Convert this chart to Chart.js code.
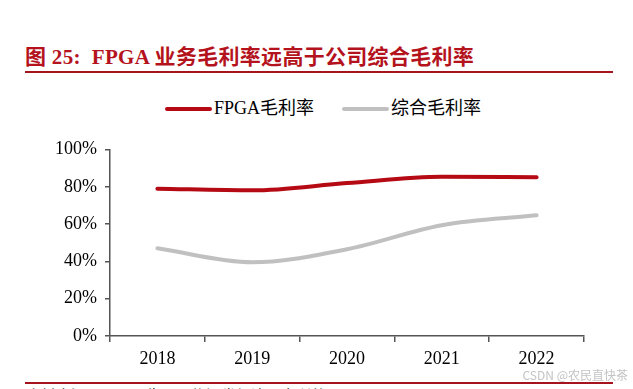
<!DOCTYPE html>
<html>
<head>
<meta charset="utf-8">
<script src="https://cdn.jsdelivr.net/npm/chart.js@4.4.0/dist/chart.umd.min.js"></script>
<style>
  html, body { margin: 0; padding: 0; background: #fff; }
  body { width: 633px; height: 389px; position: relative; overflow: hidden;
         font-family: "Liberation Serif", "Noto Sans CJK SC", serif; }
  #title { position: absolute; left: 25px; top: 40px; font-size: 21px; font-weight: bold;
           color: #B4121C; white-space: nowrap; letter-spacing: 0.3px; }
  .rule { position: absolute; left: 25px; width: 588px; height: 2px; background: #A5141C; }
  #legend { position: absolute; top: 93px; left: 165px; font-size: 18px; white-space: nowrap; }
  #legend span.item { display: inline-block; margin-right: 28px; }
  #legend i { display: inline-block; width: 47px; height: 4px; border-radius: 2px;
              vertical-align: middle; margin-right: 2px; position: relative; top: -1px; }
  #wrap { position: absolute; left: 0; top: 130px; width: 633px; height: 250px; }
  #mark { position: absolute; right: 5px; top: 366px; font-size: 12px; color: #c4c4c4;
          font-family: "Noto Sans CJK SC", sans-serif; }
  #source { position: absolute; left: 26px; top: 384px; font-size: 15px; color: #222; white-space: nowrap; }
</style>
</head>
<body>
<div id="title">图 25:&nbsp; FPGA 业务毛利率远高于公司综合毛利率</div>
<div class="rule" style="top:71px"></div>
<div id="legend"></div>
<div id="wrap"><canvas id="chart"></canvas></div>
<div class="rule" style="top:382px"></div>
<div id="mark">CSDN @农民直快茶</div>
<div id="source">资料来源：公司公告，国信证券经济研究所整理</div>
<script>
const years = ['2018', '2019', '2020', '2021', '2022'];
const fpgaMargin = [79.0, 78.1, 82.0, 85.4, 85.1];
const totalMargin = [47.0, 39.5, 46.5, 59.4, 64.7];
const seriesNames = ['FPGA毛利率', '综合毛利率'];
const seriesColors = ['#B50A14', '#C0C0C0'];

const legend = document.getElementById('legend');
seriesNames.forEach((name, i) => {
    legend.innerHTML += '<span class="item"><i style="background:' + seriesColors[i] + '"></i>' + name + '</span>';
});

const axisColor = '#555555';
const tickFont = { family: '"Liberation Serif", "Times New Roman", serif', size: 18 };

const ctx = document.getElementById('chart').getContext('2d');
const chart = new Chart(ctx, {
    type: 'line',
    data: {
        labels: years,
        datasets: [{
            label: seriesNames[0],
            data: fpgaMargin,
            borderColor: seriesColors[0],
            borderWidth: 4,
            pointRadius: 0,
            cubicInterpolationMode: 'monotone',
            borderCapStyle: 'round'
        }, {
            label: seriesNames[1],
            data: totalMargin,
            borderColor: seriesColors[1],
            borderWidth: 4,
            pointRadius: 0,
            cubicInterpolationMode: 'monotone',
            borderCapStyle: 'round'
        }]
    },
    options: {
        responsive: true,
        maintainAspectRatio: false,
        animation: false,
        layout: { padding: { top: 19.5, right: 49, left: 0, bottom: 0 } },
        plugins: { legend: { display: false }, tooltip: { enabled: false } },
        scales: {
            x: {
                offset: true,
                grid: { display: true, offset: true, drawOnChartArea: false, drawTicks: true,
                        tickLength: 6, color: axisColor, lineWidth: 1.5 },
                border: { display: true, color: axisColor, width: 1.5 },
                ticks: { color: '#000', font: tickFont, padding: 6 },
                afterFit: s => { s.height = 44; }
            },
            y: {
                min: 0,
                max: 100,
                grid: { display: true, drawOnChartArea: false, drawTicks: true,
                        tickLength: 5, color: axisColor, lineWidth: 1.5 },
                border: { display: true, color: axisColor, width: 1.5 },
                ticks: { stepSize: 20, color: '#000', font: tickFont, padding: 8,
                         callback: v => v + '%' },
                afterFit: s => { s.width = 110; }
            }
        }
    }
});
</script>
</body>
</html>
